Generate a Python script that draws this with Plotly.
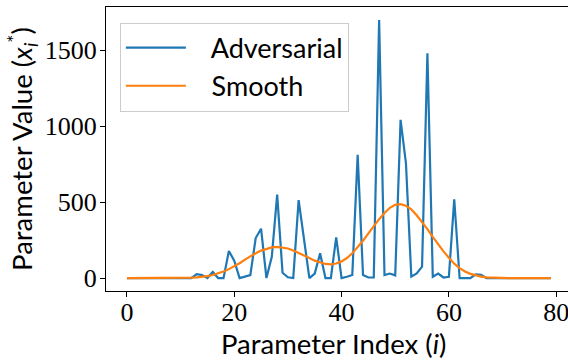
import plotly.graph_objects as go

index = list(range(80))

adversarial = [
    0, 0, 0, 0, 0, 0, 0, 0, 0, 0,
    0, 0, 0, 26, 20, 0, 40, 0, 0, 178,
    115, 0, 8, 20, 264, 325, 0, 140, 550, 35,
    5, 0, 514, 260, 0, 30, 163, 0, 0, 268,
    0, 9, 20, 811, 20, 4, 4, 1700, 20, 30,
    18, 1042, 756, 9, 30, 75, 1481, 9, 30, 4,
    9, 519, 0, 0, 0, 24, 22, 0, 0, 0,
    0, 0, 0, 0, 0, 0, 0, 0, 0, 0,
]

smooth = [
    0, 0, 0, 0, 0, 0, 0, 0, 0, 0,
    0, 1, 3, 5, 8, 13, 20, 30, 43, 59,
    77, 98, 122, 144, 164, 181, 194, 202, 205, 202,
    195, 182, 167, 150, 132, 115, 102, 93, 90, 96,
    110, 132, 163, 201, 246, 294, 342, 388, 428, 463,
    482, 487, 476, 452, 414, 370, 322, 271, 222, 176,
    134, 95, 66, 44, 28, 17, 10, 5, 3, 1,
    0, 0, 0, 0, 0, 0, 0, 0, 0, 0,
]

series_names = ["Adversarial", "Smooth"]
x_ticks = [0, 20, 40, 60, 80]
y_ticks = [0, 500, 1000, 1500]

SANS = "Lato"
SERIF = "Liberation Serif"
PAD = "\u00a0\u00a0\u00a0"

fig = go.Figure()
fig.add_trace(go.Scatter(x=index, y=adversarial, mode="lines", name=PAD + series_names[0],
                         line=dict(color="#1f77b4", width=2.2)))
fig.add_trace(go.Scatter(x=index, y=smooth, mode="lines", name=PAD + series_names[1],
                         line=dict(color="#ff7f0e", width=2.2)))

fig.update_layout(
    width=568, height=360,
    margin=dict(l=106, r=0, t=7, b=69),
    plot_bgcolor="white", paper_bgcolor="white",
    showlegend=True,
    legend=dict(x=0.03, y=0.945, xanchor="left", yanchor="top",
                bgcolor="rgba(255,255,255,0.8)", bordercolor="#cccccc", borderwidth=1,
                font=dict(family=SANS, size=27, color="black"),
                itemwidth=60),
    xaxis=dict(range=[-3.9, 82.2], tickvals=x_ticks, ticks="outside", ticklen=5,
               tickcolor="black", showline=True, linecolor="black", linewidth=1.2,
               mirror=True, showgrid=False, zeroline=False, automargin=False,
               ticklabeloverflow="allow", ticklabelstandoff=-7,
               tickfont=dict(family=SERIF, size=26, color="black")),
    yaxis=dict(range=[-85, 1785], tickvals=y_ticks, ticks="outside", ticklen=5,
               tickcolor="black", showline=True, linecolor="black", linewidth=1.2,
               mirror=False, showgrid=False, zeroline=False, automargin=False,
               ticklabeloverflow="allow", ticklabelstandoff=-2,
               tickfont=dict(family=SERIF, size=26, color="black")),
    annotations=[
        dict(text="Parameter Index (<i>i</i>)", xref="paper", yref="paper",
             x=0.4935, y=-0.185, xanchor="center", yanchor="middle", showarrow=False,
             font=dict(family=SANS, size=27.5, color="black")),
        dict(text="Parameter Value (<i>x</i><sub><i>i</i></sub><sup>*</sup>)", xref="paper", yref="paper",
             x=-0.182, y=0.5, xanchor="center", yanchor="middle", showarrow=False, textangle=-90,
             font=dict(family=SANS, size=27.5, color="black")),
    ],
)

fig.write_html("out.html", config={"displayModeBar": False},
               post_script="document.body.style.margin='0';document.body.style.overflow='hidden';")
